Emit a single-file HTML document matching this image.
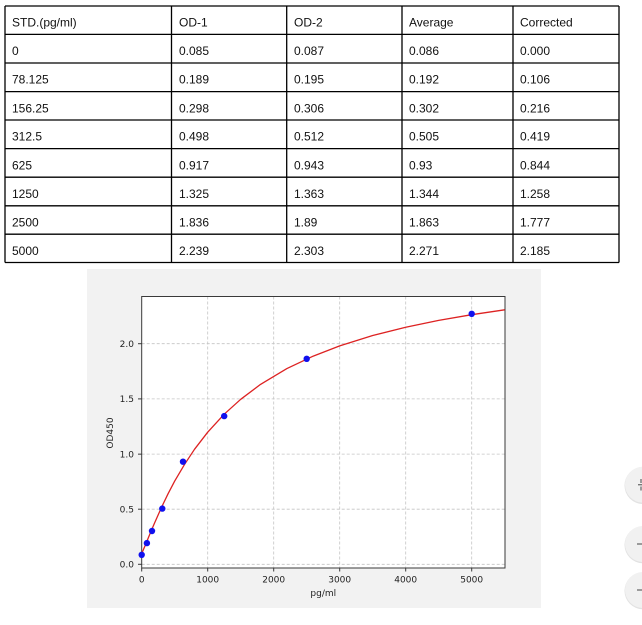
<!DOCTYPE html>
<html>
<head>
<meta charset="utf-8">
<style>
  html,body{margin:0;padding:0;background:#ffffff;}
  body{width:642px;height:625px;overflow:hidden;position:relative;}
  svg{position:absolute;left:0;top:0;}
</style>
</head>
<body>
<svg width="642" height="625" viewBox="0 0 642 625" xmlns="http://www.w3.org/2000/svg">
  <!-- ===== TABLE ===== -->
  <g stroke="#000" stroke-width="1.3" fill="none">
    <line x1="5" y1="6" x2="619" y2="6"/>
    <line x1="5" y1="34.4" x2="619" y2="34.4"/>
    <line x1="5" y1="63" x2="619" y2="63"/>
    <line x1="5" y1="91.6" x2="619" y2="91.6"/>
    <line x1="5" y1="120" x2="619" y2="120"/>
    <line x1="5" y1="148.6" x2="619" y2="148.6"/>
    <line x1="5" y1="177.2" x2="619" y2="177.2"/>
    <line x1="5" y1="205.8" x2="619" y2="205.8"/>
    <line x1="5" y1="234.2" x2="619" y2="234.2"/>
    <line x1="5" y1="262.5" x2="619" y2="262.5"/>
    <line x1="5" y1="6" x2="5" y2="262.5"/>
    <line x1="171.5" y1="6" x2="171.5" y2="262.5"/>
    <line x1="286.7" y1="6" x2="286.7" y2="262.5"/>
    <line x1="402" y1="6" x2="402" y2="262.5"/>
    <line x1="513" y1="6" x2="513" y2="262.5"/>
    <line x1="619" y1="6" x2="619" y2="262.5"/>
  </g>
  <g font-family="Liberation Sans, Arial, sans-serif" font-size="12" fill="#111">
    <text x="12" y="26.7">STD.(pg/ml)</text>
    <text x="179" y="26.7">OD-1</text>
    <text x="294" y="26.7">OD-2</text>
    <text x="409" y="26.7">Average</text>
    <text x="520" y="26.7">Corrected</text>

    <text x="12" y="55.1">0</text>
    <text x="179" y="55.1">0.085</text>
    <text x="294" y="55.1">0.087</text>
    <text x="409" y="55.1">0.086</text>
    <text x="520" y="55.1">0.000</text>

    <text x="12" y="83.7">78.125</text>
    <text x="179" y="83.7">0.189</text>
    <text x="294" y="83.7">0.195</text>
    <text x="409" y="83.7">0.192</text>
    <text x="520" y="83.7">0.106</text>

    <text x="12" y="112.3">156.25</text>
    <text x="179" y="112.3">0.298</text>
    <text x="294" y="112.3">0.306</text>
    <text x="409" y="112.3">0.302</text>
    <text x="520" y="112.3">0.216</text>

    <text x="12" y="140.7">312.5</text>
    <text x="179" y="140.7">0.498</text>
    <text x="294" y="140.7">0.512</text>
    <text x="409" y="140.7">0.505</text>
    <text x="520" y="140.7">0.419</text>

    <text x="12" y="169.3">625</text>
    <text x="179" y="169.3">0.917</text>
    <text x="294" y="169.3">0.943</text>
    <text x="409" y="169.3">0.93</text>
    <text x="520" y="169.3">0.844</text>

    <text x="12" y="197.9">1250</text>
    <text x="179" y="197.9">1.325</text>
    <text x="294" y="197.9">1.363</text>
    <text x="409" y="197.9">1.344</text>
    <text x="520" y="197.9">1.258</text>

    <text x="12" y="226.5">2500</text>
    <text x="179" y="226.5">1.836</text>
    <text x="294" y="226.5">1.89</text>
    <text x="409" y="226.5">1.863</text>
    <text x="520" y="226.5">1.777</text>

    <text x="12" y="254.9">5000</text>
    <text x="179" y="254.9">2.239</text>
    <text x="294" y="254.9">2.303</text>
    <text x="409" y="254.9">2.271</text>
    <text x="520" y="254.9">2.185</text>
  </g>

  <!-- ===== CHART ===== -->
  <rect x="87" y="269" width="454" height="339" fill="#f2f2f2"/>
  <rect x="141.7" y="296.5" width="363.3" height="271.5" fill="#ffffff"/>

  <!-- grid -->
  <g stroke="#c4c4c4" stroke-width="0.8" stroke-dasharray="3,2" fill="none">
    <line x1="207.7" y1="296.5" x2="207.7" y2="568"/>
    <line x1="273.7" y1="296.5" x2="273.7" y2="568"/>
    <line x1="339.7" y1="296.5" x2="339.7" y2="568"/>
    <line x1="405.7" y1="296.5" x2="405.7" y2="568"/>
    <line x1="471.7" y1="296.5" x2="471.7" y2="568"/>
    <line x1="141.7" y1="564.3" x2="505" y2="564.3"/>
    <line x1="141.7" y1="509.2" x2="505" y2="509.2"/>
    <line x1="141.7" y1="454.15" x2="505" y2="454.15"/>
    <line x1="141.7" y1="398.9" x2="505" y2="398.9"/>
    <line x1="141.7" y1="343.7" x2="505" y2="343.7"/>
  </g>

  <!-- spines -->
  <rect x="141.7" y="296.5" width="363.3" height="271.5" fill="none" stroke="#3a3a3a" stroke-width="1"/>

  <!-- ticks -->
  <g stroke="#3a3a3a" stroke-width="1">
    <line x1="138" y1="564.3" x2="141.7" y2="564.3"/>
    <line x1="138" y1="509.2" x2="141.7" y2="509.2"/>
    <line x1="138" y1="454.15" x2="141.7" y2="454.15"/>
    <line x1="138" y1="398.9" x2="141.7" y2="398.9"/>
    <line x1="138" y1="343.7" x2="141.7" y2="343.7"/>
    <line x1="141.7" y1="568" x2="141.7" y2="571.5"/>
    <line x1="207.7" y1="568" x2="207.7" y2="571.5"/>
    <line x1="273.7" y1="568" x2="273.7" y2="571.5"/>
    <line x1="339.7" y1="568" x2="339.7" y2="571.5"/>
    <line x1="405.7" y1="568" x2="405.7" y2="571.5"/>
    <line x1="471.7" y1="568" x2="471.7" y2="571.5"/>
  </g>

  <!-- tick labels -->
  <g font-family="DejaVu Sans, Liberation Sans, sans-serif" font-size="9" fill="#222">
    <g text-anchor="end">
      <text x="134" y="567.6">0.0</text>
      <text x="134" y="512.5">0.5</text>
      <text x="134" y="457.4">1.0</text>
      <text x="134" y="402.2">1.5</text>
      <text x="134" y="347">2.0</text>
    </g>
    <g text-anchor="middle">
      <text x="141.7" y="582.6">0</text>
      <text x="207.7" y="582.6">1000</text>
      <text x="273.7" y="582.6">2000</text>
      <text x="339.7" y="582.6">3000</text>
      <text x="405.7" y="582.6">4000</text>
      <text x="471.7" y="582.6">5000</text>
      <text x="323.3" y="596">pg/ml</text>
    </g>
    <text x="113" y="433" text-anchor="middle" transform="rotate(-90 113 433)">OD450</text>
  </g>

  <!-- fitted curve -->
  <polyline fill="none" stroke="#dd2222" stroke-width="1.3" stroke-linejoin="round"
    points="141.7,553.3 143.35,549.8 145.0,545.9 148.3,537.9 151.6,529.9 154.9,522.2 161.5,507.4 168.1,493.7 174.7,481.1 184.6,464.3 194.5,449.3 207.7,432.2 224.2,414.2 240.7,399.3 260.5,384.4 286.9,368.6 313.3,356.1 339.7,345.9 372.7,335.5 405.7,327.3 438.7,320.4 471.7,314.7 504.7,309.8"/>

  <!-- data points -->
  <g fill="#1010ee">
    <circle cx="141.7" cy="554.8" r="3.2"/>
    <circle cx="146.9" cy="543.1" r="3.2"/>
    <circle cx="152.0" cy="531.0" r="3.2"/>
    <circle cx="162.3" cy="508.6" r="3.2"/>
    <circle cx="183.0" cy="461.7" r="3.2"/>
    <circle cx="224.2" cy="416.1" r="3.2"/>
    <circle cx="306.7" cy="358.8" r="3.2"/>
    <circle cx="471.7" cy="313.8" r="3.2"/>
  </g>

  <!-- side buttons -->
  <g>
    <circle cx="643" cy="485.5" r="18.5" fill="#e2e2e2"/>
    <circle cx="643" cy="484.7" r="18" fill="#f1f1f1"/>
    <circle cx="643" cy="544.8" r="18.5" fill="#e2e2e2"/>
    <circle cx="643" cy="544" r="18" fill="#f1f1f1"/>
    <circle cx="643" cy="590.8" r="18.5" fill="#e2e2e2"/>
    <circle cx="643" cy="590" r="18" fill="#f1f1f1"/>
    <g stroke="#777" stroke-width="1.4">
      <line x1="638" y1="484.7" x2="642" y2="484.7"/>
      <line x1="641" y1="479" x2="641" y2="483"/>
      <line x1="641" y1="486.5" x2="641" y2="490.5"/>
      <line x1="637" y1="544" x2="642" y2="544"/>
      <line x1="637" y1="590" x2="642" y2="590"/>
    </g>
  </g>
</svg>
</body>
</html>
